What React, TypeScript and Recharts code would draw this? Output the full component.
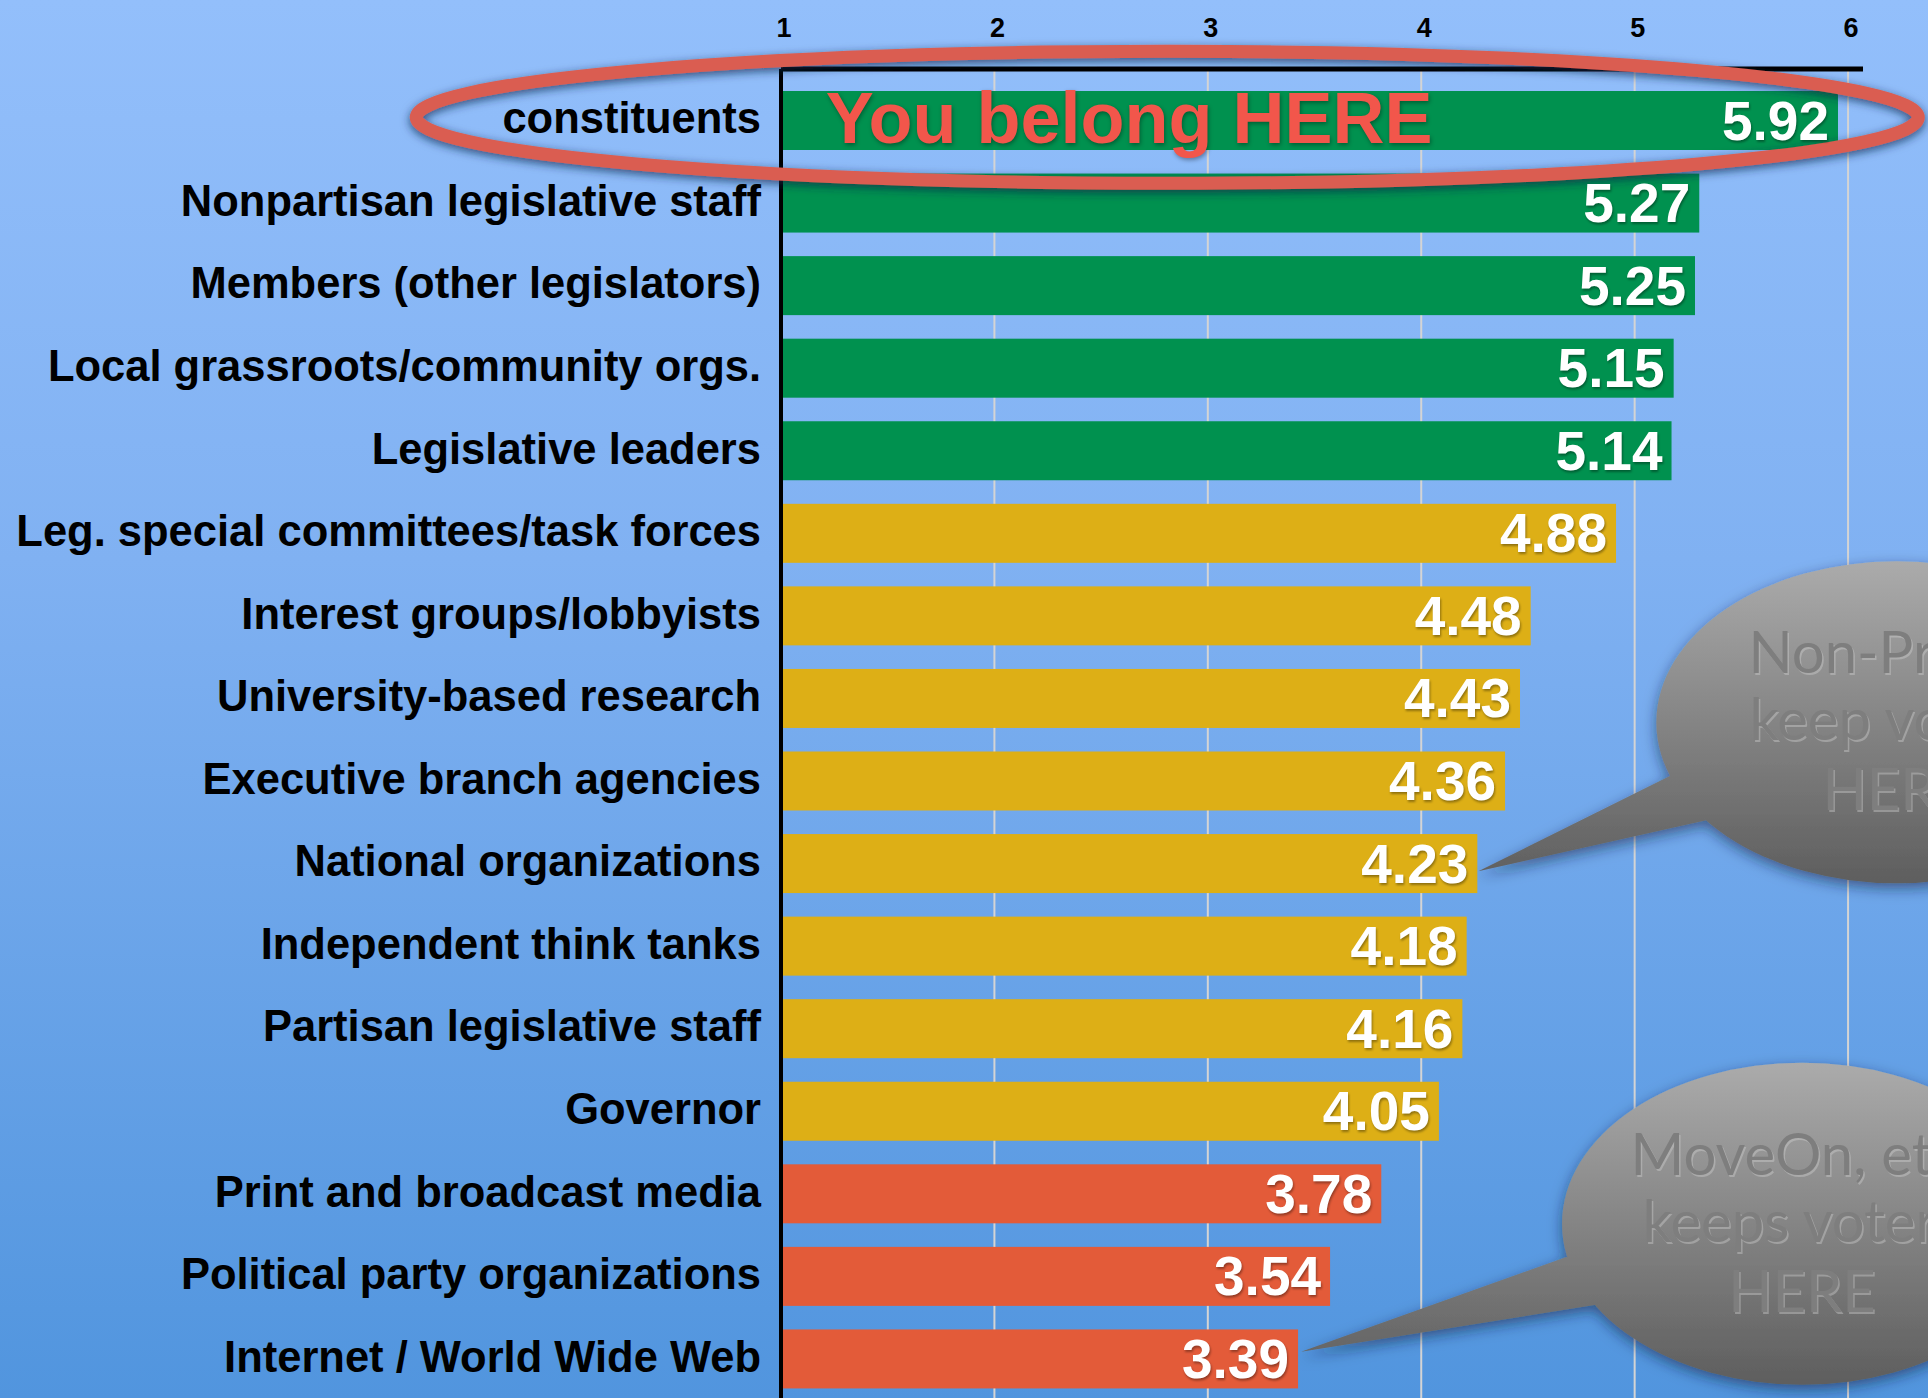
import React from 'react';
import { BarChart, Bar, XAxis, YAxis, CartesianGrid, LabelList, ReferenceDot } from 'recharts';

const categories = [
  'constituents',
  'Nonpartisan legislative staff',
  'Members (other legislators)',
  'Local grassroots/community orgs.',
  'Legislative leaders',
  'Leg. special committees/task forces',
  'Interest groups/lobbyists',
  'University-based research',
  'Executive branch agencies',
  'National organizations',
  'Independent think tanks',
  'Partisan legislative staff',
  'Governor',
  'Print and broadcast media',
  'Political party organizations',
  'Internet / World Wide Web',
];
const scores = [5.92, 5.27, 5.25, 5.15, 5.14, 4.88, 4.48, 4.43, 4.36, 4.23, 4.18, 4.16, 4.05, 3.78, 3.54, 3.39];
const xTicks = [1, 2, 3, 4, 5, 6];
const highlightText = 'You belong HERE';
const bubble1Lines = ['Non-Profits', 'keep voters', 'HERE'];
const bubble2Lines = ['MoveOn, etc.', 'keeps voters', 'HERE'];

const data = categories.map((name, i) => ({ name, score: scores[i] }));

const FONT = '"Liberation Sans", Arial, Helvetica, sans-serif';
const BAR_EXTRA = 7;
const CHART_W = 1928;
const CHART_H = 1400;
const MARGIN = { top: 0, right: 65, bottom: 0, left: 0 };
const X_DOMAIN: [number, number] = [1, 6.07];

const colorFor = (v: number) => (v >= 5 ? '#00914F' : v >= 4 ? '#DDAF16' : '#E35B39');

const CatTick = (props: any) => {
  const { x, y, payload } = props;
  return (
    <text x={x} y={y} dy={13} textAnchor="end" fontSize={43.5} fontWeight="bold" fill="#000" fontFamily={FONT}>
      {payload.value}
    </text>
  );
};

const NumTick = (props: any) => {
  const { x, y, payload } = props;
  return (
    <text x={x + 3} y={y} textAnchor="middle" fontSize={27} fontWeight="bold" fill="#000" fontFamily={FONT}>
      {payload.value}
    </text>
  );
};

const EmptyTick = () => <g />;

const BarShape = (props: any) => {
  const { x, y, width, height, payload } = props;
  return <rect x={x} y={y} width={Math.max(0, width + BAR_EXTRA)} height={height} fill={colorFor(payload.score)} />;
};

const ValueLabel = (props: any) => {
  const { x, y, width, height, value } = props;
  return (
    <text
      x={x + width + BAR_EXTRA - 9}
      y={y + height / 2 + 19}
      textAnchor="end"
      fontSize={55}
      fontWeight="bold"
      fill="#fff"
      fontFamily={FONT}
      style={{ filter: 'drop-shadow(1px 2px 1px rgba(0,0,0,0.35))' }}
    >
      {Number(value).toFixed(2)}
    </text>
  );
};

const HighlightEllipse = (props: any) => {
  const { cx, cy } = props;
  return (
    <g>
      <defs>
        <filter id="ellShadow" x="-10%" y="-60%" width="120%" height="220%">
          <feDropShadow dx="0" dy="3" stdDeviation="5" floodColor="#13254d" floodOpacity="0.75" />
        </filter>
      </defs>
      <ellipse cx={cx} cy={cy - 3} rx={751} ry={66} fill="none" stroke="#DA5D51" strokeWidth={13} filter="url(#ellShadow)" />
    </g>
  );
};

const HighlightText = (props: any) => {
  const { cx, cy } = props;
  return (
    <text
      x={cx}
      y={cy + 23}
      textAnchor="start"
      fontSize={72}
      fontWeight="bold"
      fill="#F2564B"
      fontFamily={FONT}
      style={{ filter: 'drop-shadow(1px 2px 2px rgba(0,0,0,0.35))' }}
    >
      {highlightText}
    </text>
  );
};

const makeBubble = (id: string, lines: string[], off: { tip: number[]; c: number[]; b1: number[]; b2: number[] }) => (props: any) => {
  const { cx, cy } = props;
  const ex = cx + off.c[0];
  const ey = cy + off.c[1];
  const rx = 240;
  const ry = 161;
  const tail = `M${cx + off.b1[0]},${cy + off.b1[1]} L${cx + off.tip[0]},${cy + off.tip[1]} L${cx + off.b2[0]},${cy + off.b2[1]} Z`;
  const baselines = [-49, 18, 88];
  return (
    <g>
      <defs>
        <linearGradient id={`${id}Grad`} gradientUnits="userSpaceOnUse" x1="0" y1={ey - ry} x2="0" y2={ey + ry}>
          <stop offset="0%" stopColor="#ABABAB" />
          <stop offset="100%" stopColor="#5E5E5E" />
        </linearGradient>
        <filter id={`${id}Shadow`} x="-30%" y="-30%" width="160%" height="160%">
          <feDropShadow dx="0" dy="5" stdDeviation="7" floodColor="#0b1a3a" floodOpacity="0.55" />
        </filter>
      </defs>
      <g filter={`url(#${id}Shadow)`}>
        <path d={tail} fill={`url(#${id}Grad)`} />
        <ellipse cx={ex} cy={ey} rx={rx} ry={ry} fill={`url(#${id}Grad)`} />
      </g>
      {lines.map((t, i) => (
        <g key={i}>
          <text x={ex + 1.5} y={ey + baselines[i] + 2} textAnchor="middle" fontSize={58} fill="rgba(210,210,210,0.4)" fontFamily="Lato, 'Open Sans', sans-serif">
            {t}
          </text>
          <text x={ex} y={ey + baselines[i]} textAnchor="middle" fontSize={58} fill="#7E7E7E" fontFamily="Lato, 'Open Sans', sans-serif">
            {t}
          </text>
        </g>
      ))}
    </g>
  );
};

const Bubble1 = makeBubble('b1', bubble1Lines, { tip: [BAR_EXTRA + 1, 8], c: [419 + BAR_EXTRA, -141], b1: [194 + BAR_EXTRA, -88], b2: [229 + BAR_EXTRA, -43] });
const Bubble2 = makeBubble('b2', bubble2Lines, { tip: [10, -7], c: [511, -135], b1: [276, -102], b2: [305, -54] });

const layerStyle: React.CSSProperties = { position: 'absolute', left: 0, top: 0 };

export default function App() {
  return (
    <div
      style={{
        position: 'absolute',
        left: 0,
        top: 0,
        width: 1928,
        height: 1398,
        overflow: 'hidden',
        background: 'linear-gradient(to bottom, #93BFFB 0%, #80B1F2 40%, #5195DE 100%)',
      }}
    >
      {/* grid layer, drawn beneath the bars with the same axes */}
      <div style={layerStyle}>
        <BarChart width={CHART_W} height={CHART_H} data={data} layout="vertical" margin={MARGIN}>
          <CartesianGrid horizontal={false} vertical={true} syncWithTicks stroke="#D4D4D4" strokeWidth={2} />
          <XAxis
            type="number"
            orientation="top"
            domain={X_DOMAIN}
            ticks={xTicks}
            allowDataOverflow
            height={69}
            tick={<EmptyTick />}
            axisLine={false}
            tickLine={false}
          />
          <YAxis
            type="category"
            dataKey="name"
            width={781}
            padding={{ top: 10, bottom: 0 }}
            tick={<EmptyTick />}
            axisLine={false}
            tickLine={false}
          />
        </BarChart>
      </div>
      {/* main layer */}
      <div style={layerStyle}>
        <BarChart width={CHART_W} height={CHART_H} data={data} layout="vertical" margin={MARGIN}>
          <XAxis
            type="number"
            orientation="top"
            domain={X_DOMAIN}
            ticks={xTicks}
            allowDataOverflow
            height={69}
            tickSize={0}
            tickMargin={32}
            tick={<NumTick />}
            axisLine={{ stroke: '#000', strokeWidth: 5 }}
            tickLine={false}
          />
          <YAxis
            type="category"
            dataKey="name"
            width={781}
            padding={{ top: 10, bottom: 0 }}
            tickSize={0}
            tickMargin={20}
            tick={<CatTick />}
            tickLine={false}
            axisLine={{ stroke: '#000', strokeWidth: 4 }}
            interval={0}
          />
          <Bar dataKey="score" barSize={59} isAnimationActive={false} shape={<BarShape />}>
            <LabelList dataKey="score" content={<ValueLabel />} />
          </Bar>
          <ReferenceDot x={1.21} y={categories[0]} r={0} shape={<HighlightText />} />
          <ReferenceDot x={2.81} y={categories[0]} r={0} shape={<HighlightEllipse />} />
          <ReferenceDot x={scores[9]} y={categories[9]} r={0} shape={<Bubble1 />} />
          <ReferenceDot x={scores[15]} y={categories[15]} r={0} shape={<Bubble2 />} />
        </BarChart>
      </div>
    </div>
  );
}
